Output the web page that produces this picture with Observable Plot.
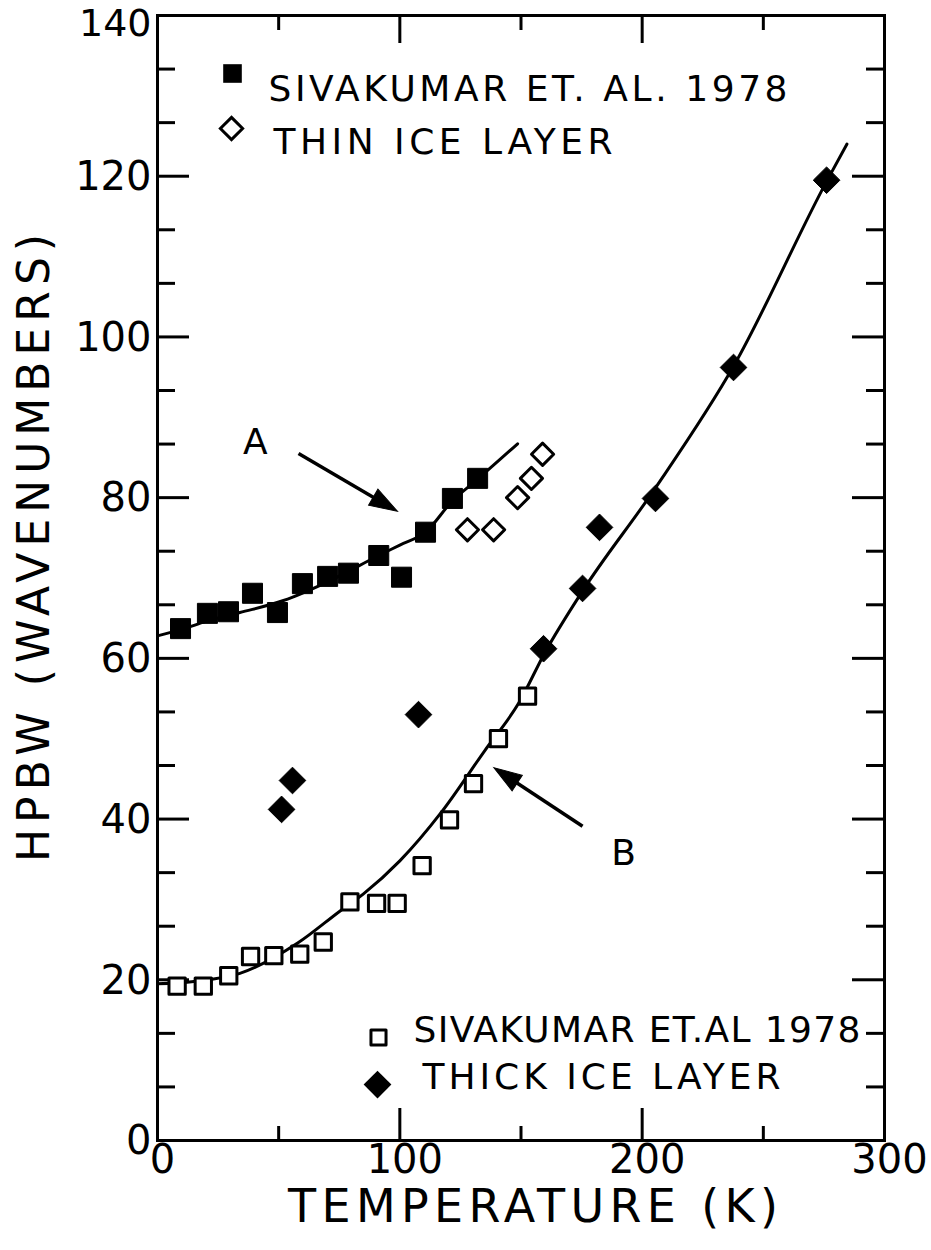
<!DOCTYPE html>
<html>
<head>
<meta charset="utf-8">
<script src="https://cdn.jsdelivr.net/npm/d3@7"></script>
<script src="https://cdn.jsdelivr.net/npm/@observablehq/plot@0.6"></script>
<style>
  html, body { margin: 0; padding: 0; background: #fff; }
  #chart svg { display: block; }
</style>
</head>
<body>
<div id="chart"></div>
<script>
// Half-power band width of the ice band vs temperature.

// Sivakumar et al. 1978, filled squares (curve A)
const sivA_T = [9.5, 20.6, 29.3, 39.2, 49.5, 59.8, 70.2, 78.8, 91.3, 100.7, 110.6, 121.7, 132.1];
const sivA_H = [63.7, 65.6, 65.8, 68.1, 65.7, 69.3, 70.2, 70.6, 72.8, 70.1, 75.7, 79.9, 82.4];

// Thin ice layer, open diamonds
const thin_T = [127.9, 138.7, 148.6, 154.3, 158.9];
const thin_H = [76.0, 76.0, 80.0, 82.4, 85.4];

// Sivakumar et al. 1978, open squares (curve B)
const sivB_T = [8.1, 18.9, 29.4, 38.4, 48.0, 58.7, 68.4, 79.4, 90.4, 98.9, 109.2, 120.5, 130.4, 140.7, 152.7];
const sivB_H = [19.2, 19.2, 20.5, 22.9, 23.0, 23.2, 24.7, 29.7, 29.5, 29.5, 34.2, 39.9, 44.4, 50.0, 55.3];

// Thick ice layer, filled diamonds
const thick_T = [51.2, 55.7, 107.7, 159.3, 175.4, 182.4, 205.5, 237.7, 276.1];
const thick_H = [41.2, 44.8, 53.0, 61.2, 68.7, 76.3, 79.9, 96.2, 119.5];

// Hand-drawn trend curves
const fitA_T = [0, 10, 20, 34, 52, 70, 91.3, 100, 110.6, 121.7, 132.1, 148.6];
const fitA_H = [62.8, 63.6, 64.6, 65.7, 67.2, 69.5, 72.8, 74.1, 75.7, 79.6, 82.3, 86.7];
const fitB_T = [0, 15, 34, 58, 75.5, 85, 100, 117, 135, 149, 160, 175, 205, 238, 276, 284.5];
const fitB_H = [19.5, 19.8, 20.8, 24.6, 28.6, 30.7, 34.8, 40.8, 48.5, 54.4, 60.8, 68.2, 81.0, 96.5, 119.3, 124.0];

// Axis ticks and labels
const xTickLabels = [0, 100, 200, 300];
const xMinorTicks = [50, 150, 250];
const yTickLabels = [0, 20, 40, 60, 80, 100, 120, 140];

// Curve call-outs: label, arrow tail, arrow tip, label position (data units)
const calloutLabels = ["A", "B"];
const calloutTail = [[58.2, 85.5], [175.4, 39.1]];
const calloutTip = [[99.0, 78.3], [138.8, 46.4]];
const calloutText = [[40.4, 86.9], [192.3, 35.7]];

// ---- layout ----
const width = 931, height = 1250;
const margin = {left: 157, right: 47, top: 15, bottom: 110};
const innerW = width - margin.left - margin.right;
const innerH = height - margin.top - margin.bottom;
const font = "DejaVu Sans, sans-serif";
const ink = "#000";

const rows = (T, H) => T.map((t, i) => ({t, h: H[i]}));

// two minor ticks between labelled y ticks
const yMinorTicks = yTickLabels.slice(0, -1).flatMap(v => [v + 20 / 3, v + 40 / 3]);
const yTop = yTickLabels[yTickLabels.length - 1];

// mirror of the plot scales, used to orient the arrow heads
const xs = d3.scaleLinear([0, 300], [margin.left, width - margin.right]);
const ys = d3.scaleLinear([0, 140], [height - margin.bottom, margin.top]);
const headLen = 14;
const callouts = calloutLabels.map((label, i) => {
  const x1 = xs(calloutTail[i][0]), y1 = ys(calloutTail[i][1]);
  const x2 = xs(calloutTip[i][0]), y2 = ys(calloutTip[i][1]);
  const L = Math.hypot(x2 - x1, y2 - y1), ux = (x2 - x1) / L, uy = (y2 - y1) / L;
  return {
    label,
    tx: calloutTail[i][0], ty: calloutTail[i][1],
    sx: xs.invert(x2 - ux * headLen * 1.4), sy: ys.invert(y2 - uy * headLen * 1.4),
    hx: xs.invert(x2 - ux * headLen), hy: ys.invert(y2 - uy * headLen),
    angle: Math.atan2(ux, -uy) * 180 / Math.PI,
    lx: calloutText[i][0], ly: calloutText[i][1]
  };
});

// slender filled arrow head pointing up
const arrowHead = {
  draw(ctx, size) {
    const r = Math.sqrt(size / Math.PI);
    ctx.moveTo(0, -r);
    ctx.lineTo(0.66 * r, r);
    ctx.lineTo(-0.66 * r, r);
    ctx.closePath();
  }
};

const majorLen = 32, minorLenY = 18, minorLenX = 14;

const legendText = (text, frameAnchor, dx, dy) =>
  Plot.text([text], {frameAnchor, dx, dy, textAnchor: "start", fontSize: 36, fill: ink, fontFamily: font});

const chart = Plot.plot({
  width, height,
  marginLeft: margin.left, marginRight: margin.right,
  marginTop: margin.top, marginBottom: margin.bottom,
  x: {domain: [0, 300], axis: null},
  y: {domain: [0, 140], axis: null},
  style: {background: "#fff", fontFamily: font, color: ink},
  marks: [
    // inward ticks: left and right
    Plot.tickY(yTickLabels, {y: d => d, insetRight: innerW - majorLen, stroke: ink, strokeWidth: 3}),
    Plot.tickY(yMinorTicks, {y: d => d, insetRight: innerW - minorLenY, stroke: ink, strokeWidth: 3}),
    Plot.tickY(yTickLabels, {y: d => d, insetLeft: innerW - majorLen, stroke: ink, strokeWidth: 3}),
    Plot.tickY(yMinorTicks, {y: d => d, insetLeft: innerW - minorLenY, stroke: ink, strokeWidth: 3}),
    // inward ticks: bottom and top
    Plot.tickX(xTickLabels, {x: d => d, insetTop: innerH - majorLen, stroke: ink, strokeWidth: 3}),
    Plot.tickX(xMinorTicks, {x: d => d, insetTop: innerH - minorLenX, stroke: ink, strokeWidth: 3}),
    Plot.tickX(xTickLabels, {x: d => d, insetBottom: innerH - 28, stroke: ink, strokeWidth: 3}),
    Plot.tickX(xMinorTicks, {x: d => d, insetBottom: innerH - 15, stroke: ink, strokeWidth: 3}),
    Plot.frame({stroke: ink, strokeWidth: 3}),

    // tick labels (the top one sits a little lower, clear of the edge)
    Plot.text(yTickLabels.filter(d => d !== yTop), {y: d => d, frameAnchor: "left", dx: -6, dy: 1, textAnchor: "end", fontSize: 40, fill: ink}),
    Plot.text([yTop], {y: d => d, frameAnchor: "left", dx: -6, dy: 8, textAnchor: "end", fontSize: 38, fill: ink}),
    Plot.text(xTickLabels, {x: d => d, frameAnchor: "bottom", dx: 5, dy: 32, fontSize: 40, fill: ink}),

    // axis titles
    Plot.text(["TEMPERATURE (K)"], {frameAnchor: "bottom", dx: 12, dy: 81, textAnchor: "middle", fontSize: 46, fill: ink}),
    Plot.text(["HPBW (WAVENUMBERS)"], {frameAnchor: "left", rotate: -90, dx: -123, dy: -30, textAnchor: "middle", fontSize: 44, fill: ink}),

    // trend curves
    Plot.line(rows(fitA_T, fitA_H), {x: "t", y: "h", curve: "monotone-x", stroke: ink, strokeWidth: 3}),
    Plot.line(rows(fitB_T, fitB_H), {x: "t", y: "h", curve: "monotone-x", stroke: ink, strokeWidth: 3}),

    // data
    Plot.dot(rows(sivA_T, sivA_H), {x: "t", y: "h", symbol: "square", r: 11.3, fill: ink, stroke: ink, strokeWidth: 1, strokeLinejoin: "round"}),
    Plot.dot(rows(sivB_T, sivB_H), {x: "t", y: "h", symbol: "square", r: 9.2, fill: "#fff", stroke: ink, strokeWidth: 3, strokeLinejoin: "round"}),
    Plot.dot(rows(thin_T, thin_H), {x: "t", y: "h", symbol: "diamond2", r: 10, fill: "#fff", stroke: ink, strokeWidth: 3, strokeLinejoin: "round"}),
    Plot.dot(rows(thick_T, thick_H), {x: "t", y: "h", symbol: "diamond2", r: 12, fill: ink, stroke: ink, strokeWidth: 1, strokeLinejoin: "round"}),

    // call-outs
    Plot.link(callouts, {x1: "tx", y1: "ty", x2: "sx", y2: "sy", stroke: ink, strokeWidth: 3.5}),
    Plot.dot(callouts, {x: "hx", y: "hy", symbol: arrowHead, r: headLen, rotate: "angle", fill: ink, stroke: ink, strokeWidth: 1}),
    Plot.text(callouts, {x: "lx", y: "ly", text: "label", fontSize: 36, fill: ink}),

    // legend, upper left
    Plot.dot([0], {frameAnchor: "top-left", dx: 75, dy: 58, symbol: "square", r: 10.5, fill: ink}),
    legendText("SIVAKUMAR ET. AL. 1978", "top-left", 111, 60),
    Plot.dot([0], {frameAnchor: "top-left", dx: 74, dy: 113, symbol: "diamond2", r: 10, fill: "#fff", stroke: ink, strokeWidth: 3}),
    legendText("THIN ICE LAYER", "top-left", 116, 113),

    // legend, lower right
    Plot.dot([0], {frameAnchor: "bottom-left", dx: 221, dy: -103, symbol: "square", r: 8.5, fill: "#fff", stroke: ink, strokeWidth: 3, strokeLinejoin: "round"}),
    legendText("SIVAKUMAR ET.AL 1978", "bottom-left", 256, -99),
    Plot.dot([0], {frameAnchor: "bottom-left", dx: 220, dy: -56, symbol: "diamond2", r: 12.5, fill: ink}),
    legendText("THICK ICE LAYER", "bottom-left", 265, -52)
  ]
});

// spread the lettering to its drawn widths
const spans = {
  "SIVAKUMAR ET. AL. 1978": 519,
  "THIN ICE LAYER": 339,
  "SIVAKUMAR ET.AL 1978": 447,
  "THICK ICE LAYER": 358,
  "TEMPERATURE (K)": 490,
  "HPBW (WAVENUMBERS)": 628
};
chart.querySelectorAll("text").forEach(el => {
  const w = spans[el.textContent];
  if (w) {
    el.setAttribute("textLength", w);
    el.setAttribute("lengthAdjust", "spacing");
  }
});

document.getElementById("chart").appendChild(chart);
</script>
</body>
</html>
